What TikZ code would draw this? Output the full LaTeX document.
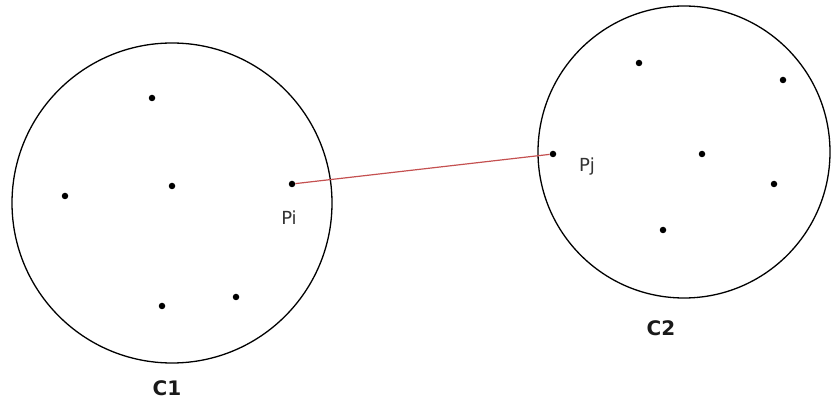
\documentclass[tikz,border=0pt]{standalone}
\usepackage{fontspec}
\setmainfont{DejaVu Sans}
\definecolor{linkred}{RGB}{196,80,80}
\begin{document}
\begin{tikzpicture}[x=1pt,y=-1pt,
  pt/.style={circle,fill=black,inner sep=0pt,minimum size=6.5pt},
  ring/.style={draw=black,line width=1.3pt},
  lbl/.style={font=\fontsize{18}{18}\selectfont,text=black!80},
  clbl/.style={font=\bfseries\fontsize{20}{20}\selectfont,text=black!90}]
\useasboundingbox (0,0) rectangle (831,406);
\draw[ring] (172,203) circle (160);
\draw[ring] (684,152) circle (146);
% cluster 1 points
\node[pt] (a1) at (152,98) {};
\node[pt] (a2) at (172,186) {};
\node[pt] (a3) at (65,196) {};
\node[pt] (pi) at (292,184) {};
\node[pt] (a5) at (162,306) {};
\node[pt] (a6) at (236,297) {};
% cluster 2 points
\node[pt] (b1) at (639,63) {};
\node[pt] (b2) at (783,80) {};
\node[pt] (pj) at (553,154) {};
\node[pt] (b4) at (702,154) {};
\node[pt] (b5) at (774,184) {};
\node[pt] (b6) at (663,230) {};
\draw[linkred,line width=1.2pt] (pi) -- (pj);
\node[lbl] (lpi) at (289,218) {Pi};
\node[lbl] (lpj) at (587,167) {Pj};
\node[clbl] (c1) at (167,388) {C1};
\node[clbl] (c2) at (661,328) {C2};
\end{tikzpicture}
\end{document}
